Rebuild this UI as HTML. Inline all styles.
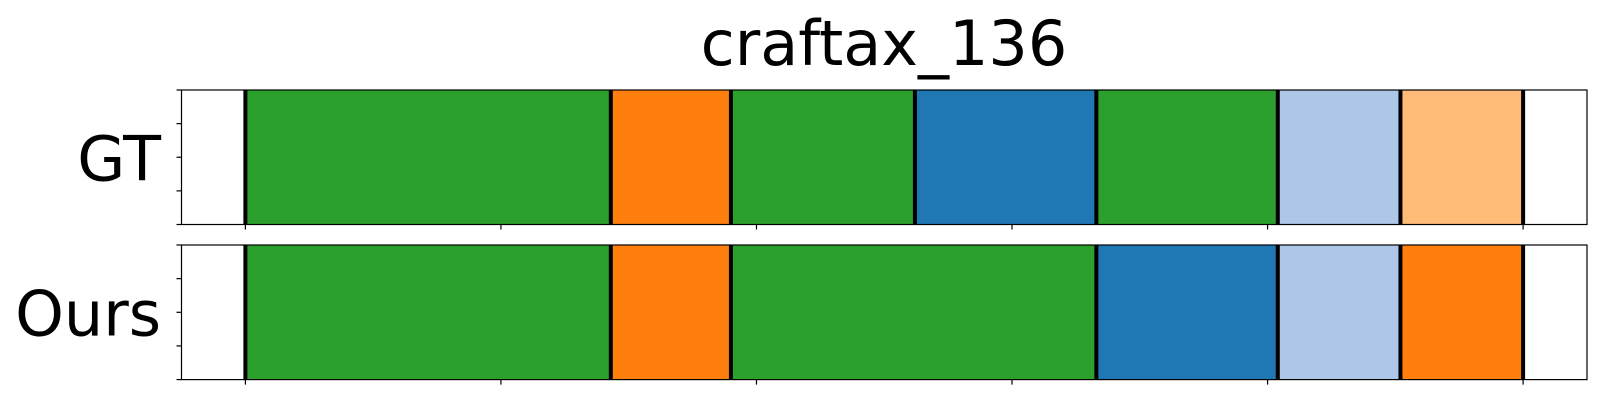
<!DOCTYPE html>
<html><head><meta charset="utf-8"><style>
html,body{margin:0;padding:0;background:#fff;}
svg text{font-family:"DejaVu Sans","Liberation Sans",sans-serif;}
</style></head><body>
<svg id="chart" width="1600" height="400" viewBox="0 0 1600 400" xmlns="http://www.w3.org/2000/svg">
<text x="884" y="65" font-size="62" text-anchor="middle">craftax_136</text>
</svg>
<script>
const xTicks = [0, 100, 200, 300, 400, 500];
const gtBounds = [0, 143, 190, 262, 333, 404, 452, 500];
const gtColors = ["#2ca02c", "#ff7f0e", "#2ca02c", "#1f77b4", "#2ca02c", "#aec7e8", "#ffbb78"];
const oursBounds = [0, 143, 190, 333, 404, 452, 500];
const oursColors = ["#2ca02c", "#ff7f0e", "#2ca02c", "#1f77b4", "#aec7e8", "#ff7f0e"];
const rowLabels = ["GT", "Ours"];

const svg = document.getElementById('chart');
const NS = 'http://www.w3.org/2000/svg';
const X0 = 181.5, X1 = 1587, DMIN = -25, DMAX = 525;
function xs(v){ return X0 + (v - DMIN) / (DMAX - DMIN) * (X1 - X0); }
function mk(tag, attrs){ const e = document.createElementNS(NS, tag); for (const k in attrs) e.setAttribute(k, attrs[k]); svg.appendChild(e); return e; }

const rows = [
  {top: 90, bot: 224.5, bounds: gtBounds, colors: gtColors, label: rowLabels[0]},
  {top: 245, bot: 379.6, bounds: oursBounds, colors: oursColors, label: rowLabels[1]}
];
rows.forEach((r, ri) => {
  const h = r.bot - r.top;
  for (let i = 0; i < r.colors.length; i++) {
    const rc = mk('rect', {x: xs(r.bounds[i]), y: r.top, width: xs(r.bounds[i+1]) - xs(r.bounds[i]), height: h, fill: r.colors[i]});
    
    
  }
  r.bounds.forEach(b => {
    const ln = mk('line', {x1: xs(b), x2: xs(b), y1: r.top, y2: r.bot, stroke: '#000', 'stroke-width': 4});
    
    
  });
  const fr = mk('rect', {x: X0, y: r.top, width: X1 - X0, height: h, fill: 'none', stroke: '#000', 'stroke-width': 1.2});
  
  
  for (let k = 0; k <= 4; k++) {
    const y = r.bot - k * h / 4;
    const t = mk('line', {x1: X0 - 5, x2: X0, y1: y, y2: y, stroke: '#000', 'stroke-width': 1.2});
    
    
  }
  xTicks.forEach(v => {
    const t = mk('line', {x1: xs(v), x2: xs(v), y1: r.bot, y2: r.bot + 5, stroke: '#000', 'stroke-width': 1.2});
    
    
  });
  const lab = mk('text', {x: 161, y: (r.top + r.bot) / 2 + 23, 'font-size': 62, 'text-anchor': 'end'});
  lab.textContent = r.label;
  
  
});
</script>
</body></html>
